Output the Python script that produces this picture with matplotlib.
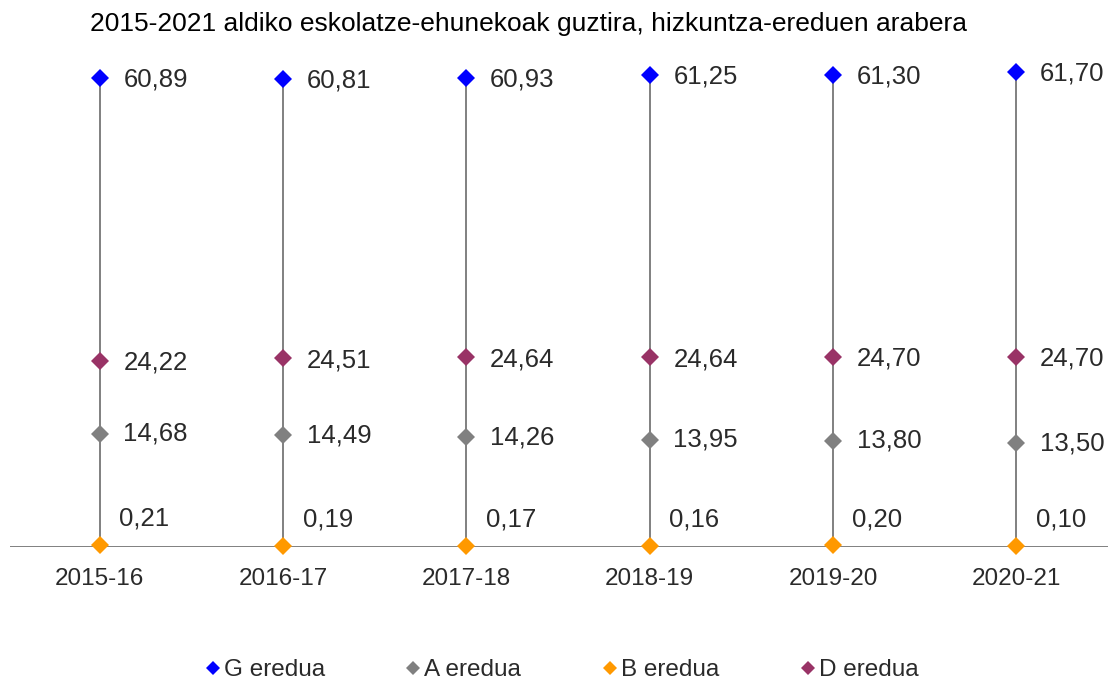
import matplotlib
matplotlib.use("Agg")
import matplotlib.pyplot as plt
from matplotlib.lines import Line2D

plt.rcParams['font.family'] = ['Liberation Sans', 'DejaVu Sans']

categories = ["2015-16", "2016-17", "2017-18", "2018-19", "2019-20", "2020-21"]
g_eredua = [60.89, 60.81, 60.93, 61.25, 61.30, 61.70]
a_eredua = [14.68, 14.49, 14.26, 13.95, 13.80, 13.50]
b_eredua = [0.21, 0.19, 0.17, 0.16, 0.20, 0.10]
d_eredua = [24.22, 24.51, 24.64, 24.64, 24.70, 24.70]
series_names = ["G eredua", "A eredua", "B eredua", "D eredua"]
series_colors = ["#0000FF", "#808080", "#FF9900", "#993366"]
title = "2015-2021 aldiko eskolatze-ehunekoak guztira, hizkuntza-ereduen arabera"

W, H = 1113, 683
fig = plt.figure(figsize=(W / 100, H / 100), dpi=100)
ax_left, ax_right = 10, 1108
y_zero, y_top = 547, 46.5
ax = fig.add_axes([ax_left / W, (H - y_zero) / H, (ax_right - ax_left) / W, (y_zero - y_top) / H])

x = list(range(len(categories)))
ax.set_xlim(-0.49, len(categories) - 0.5)
ax.set_ylim(0, 65)

# high-low lines
ax.vlines(x, 0, g_eredua, color="#808080", linewidth=1.4, zorder=1)
ax.axhline(0, color="#808080", linewidth=1.4, zorder=1)

all_series = [g_eredua, a_eredua, b_eredua, d_eredua]
for vals, name, col in zip(all_series, series_names, series_colors):
    ax.plot(x, vals, linestyle="none", marker="D", markersize=9, color=col,
            markeredgewidth=0, zorder=3, clip_on=False)

def fmt(v):
    return f"{v:.2f}".replace(".", ",")

label_color = "#2a2a2a"
fs = 18.5
for i in x:
    ax.annotate(fmt(g_eredua[i]), (i, g_eredua[i]), xytext=(17, -1), textcoords="offset points",
                ha="left", va="center", fontsize=fs, color=label_color)
    ax.annotate(fmt(d_eredua[i]), (i, d_eredua[i]), xytext=(17, -1.5), textcoords="offset points",
                ha="left", va="center", fontsize=fs, color=label_color)
    ax.annotate(fmt(a_eredua[i]), (i, a_eredua[i]), xytext=(17, 0), textcoords="offset points",
                ha="left", va="center", fontsize=fs, color=label_color)
    ax.annotate(fmt(b_eredua[i]), (i, b_eredua[i]), xytext=(14, 19), textcoords="offset points",
                ha="left", va="center", fontsize=fs, color=label_color)

ax.set_xticks(x)
ax.set_xticklabels(categories, fontsize=17.5, color=label_color)
ax.tick_params(axis="x", length=0, pad=15)
ax.set_yticks([])
for s in ax.spines.values():
    s.set_visible(False)

fig.text(528 / W, 1 - 24 / H, title, ha="center", va="center", fontsize=19, color="black")

handles = [Line2D([], [], linestyle="none", marker="D", markersize=7, color=c, markeredgewidth=0)
           for c in series_colors]
fig.legend(handles, series_names, loc="center", bbox_to_anchor=(560 / W, 1 - 670 / H), ncol=4,
           frameon=False, fontsize=17.5, handletextpad=0.0, columnspacing=3.2, handlelength=0.9,
           labelcolor=label_color)

fig.savefig("out.png", dpi=100)
